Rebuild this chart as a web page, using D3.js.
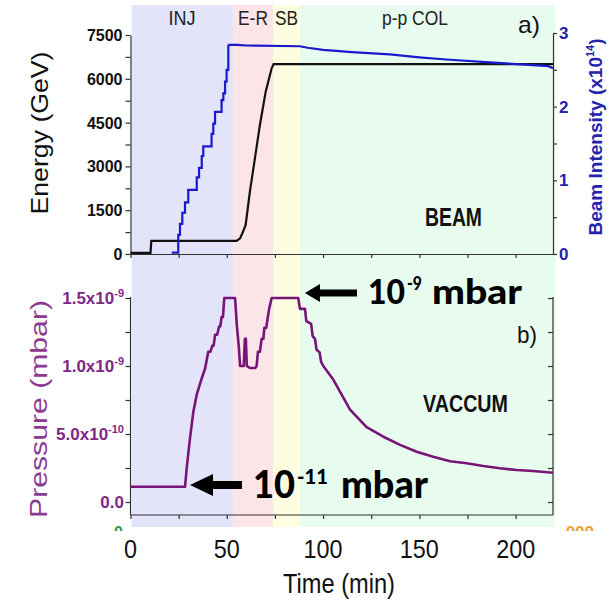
<!DOCTYPE html>
<html><head><meta charset="utf-8">
<script src="https://cdn.jsdelivr.net/npm/d3@7"></script>
<style>
html,body{margin:0;padding:0;background:#fff;}
svg{display:block;}
text{font-family:"Liberation Sans",Arial,sans-serif;}
</style></head>
<body>
<script>
// ---------------- data ----------------
const phaseNames  = ["INJ", "E-R", "SB", "p-p COL"];
const phaseStart  = [0.6, 53.2, 74.0, 88.0];
const phaseEnd    = [53.2, 74.0, 88.0, 220.5];
const phaseColors = ["#e3e3f9", "#fce5e9", "#fdfde0", "#e8fbef"];

const timeTicks   = [0, 50, 100, 150, 200];
const timeMinor   = [0, 25, 50, 75, 100, 125, 150, 175, 200];
const energyTicks = [0, 1500, 3000, 4500, 6000, 7500];
const intensityTicks = [0, 1, 2, 3];
const pressureTicks  = [0, 0.5e-9, 1.0e-9, 1.5e-9];
const pressureTickMant = ["0.0", "5.0x10", "1.0x10", "1.5x10"];
const pressureTickExp  = ["", "-10", "-9", "-9"];

// Energy (GeV) vs time (min)
const energyTime  = [0, 10.4, 10.8, 55.1, 56.9, 58.1, 59.8, 62.0, 64.6, 67.2, 70.2, 73.3, 74.3, 219.4];
const energyValue = [40, 40, 450, 450, 537, 708, 993, 2134, 3276, 4418, 5560, 6359, 6500, 6500];

// Beam intensity (x10^14): injection staircase then slow decay
const intStepTime  = [21.4, 24.8, 25.7, 26.9, 28.3, 30.0, 34.4, 35.6, 37.0, 37.8, 42.1, 43.0, 43.9, 47.3, 48.2, 49.1, 49.9, 50.8];
const intStepValue = [0.02, 0.26, 0.41, 0.56, 0.70, 0.87, 1.04, 1.17, 1.33, 1.46, 1.63, 1.77, 1.93, 2.09, 2.18, 2.34, 2.50, 2.84];
const intTailTime  = [50.8, 55.5, 60, 88, 92, 100, 115, 134.7, 150, 164, 186.6, 205, 217, 219.4];
const intTailValue = [2.84, 2.84, 2.83, 2.82, 2.80, 2.77, 2.74, 2.71, 2.67, 2.64, 2.60, 2.57, 2.55, 2.52];

// Pressure (mbar)
const pressureTime = [0, 28.3, 29.2, 30.9, 32.6, 34.4, 37.0, 38.7, 40.4, 41.5, 42.5, 43.2, 43.9, 45.0, 46.0, 46.6, 47.3, 48.0, 48.7,
  54.3, 55.2, 56.2, 56.9, 58.8, 59.4, 59.9, 60.4, 62.0, 64.8, 65.5, 66.2, 67.2, 68.1, 69.0, 69.5, 70.5, 71.2, 72.0, 73.3,
  87.1, 88.0, 90.6, 91.3, 93.8, 94.6, 95.8, 96.6, 98.2, 99.0, 100.1, 105.3, 114.0, 122.6, 131.3, 140.0, 148.6, 157.2, 165.9,
  174.6, 183.2, 191.8, 200.5, 209.1, 219.4];
const pressureValue = [0.112e-9, 0.112e-9, 0.25e-9, 0.47e-9, 0.66e-9, 0.79e-9, 0.91e-9, 0.98e-9, 1.105e-9, 1.105e-9, 1.15e-9, 1.15e-9, 1.23e-9, 1.23e-9, 1.29e-9, 1.29e-9, 1.36e-9, 1.36e-9, 1.5e-9,
  1.5e-9, 1.3e-9, 1.15e-9, 1.0e-9, 1.0e-9, 1.2e-9, 1.2e-9, 1.0e-9, 0.985e-9, 0.985e-9, 1.0e-9, 1.105e-9, 1.105e-9, 1.2e-9, 1.2e-9, 1.28e-9, 1.28e-9, 1.35e-9, 1.42e-9, 1.5e-9,
  1.5e-9, 1.42e-9, 1.42e-9, 1.33e-9, 1.31e-9, 1.22e-9, 1.20e-9, 1.12e-9, 1.10e-9, 1.03e-9, 1.0e-9, 0.90e-9, 0.68e-9, 0.55e-9, 0.48e-9, 0.42e-9, 0.37e-9, 0.333e-9, 0.30e-9,
  0.285e-9, 0.265e-9, 0.248e-9, 0.235e-9, 0.228e-9, 0.215e-9];

// annotations: arrow tip (time, pressure) and label
const annTime  = [90.6, 30.9];
const annPress = [1.537e-9, 0.125e-9];
const annExp   = ["-9", "-11"];

// ---------------- layout ----------------
const W = 612, H = 605;
const L = 130.5, R = 553;
const topT = 34, topB = 254, botT = 297, botB = 515;
const bgTop = 5, bgBot = 527;

const svg = d3.select("body").append("svg").attr("width", W).attr("height", H);

const x  = d3.scaleLinear().domain([0, 219.4]).range([L, R]);
const yE = d3.scaleLinear().domain([0, 7500]).range([topB, 35]);
const yI = d3.scaleLinear().domain([0, 3]).range([topB, 33]);
const yP = d3.scaleLinear().domain([0, 1.5e-9]).range([502, 298]);

// phase backgrounds
svg.append("g").selectAll("rect").data(phaseNames).join("rect")
  .attr("x", (d, i) => x(phaseStart[i]))
  .attr("width", (d, i) => x(phaseEnd[i]) - x(phaseStart[i]))
  .attr("y", bgTop).attr("height", bgBot - bgTop)
  .attr("fill", (d, i) => phaseColors[i]);

// phase labels
const phaseLabelX = [182, 253, 286.5, 415];
const phaseLabelW = [27, 30, 23, 66];
svg.append("g").selectAll("text").data(phaseNames).join("text")
  .attr("x", (d, i) => phaseLabelX[i] - phaseLabelW[i] / 2)
  .attr("y", 25)
  .attr("textLength", (d, i) => phaseLabelW[i]).attr("lengthAdjust", "spacingAndGlyphs")
  .attr("font-size", 20).attr("fill", "#222").text(d => d);

// ---------- top panel axes ----------
const axCol = "#333";
function styleAxis(g, col) {
  g.selectAll("path,line").attr("stroke", col).attr("stroke-width", 1.2);
  g.selectAll("text").remove();
}
svg.append("g").attr("transform", `translate(0,${topB})`)
  .call(d3.axisBottom(x).tickValues(timeMinor).tickSize(4).tickSizeOuter(0).tickFormat(""))
  .call(g => styleAxis(g, axCol));
svg.append("g").attr("transform", `translate(${L},0)`)
  .call(d3.axisLeft(yE).tickValues(d3.range(0, 7501, 750)).tickSize(5).tickSizeOuter(0).tickFormat(""))
  .call(g => styleAxis(g, axCol));
svg.append("g").selectAll("text").data(energyTicks).join("text")
  .attr("x", L - 8).attr("y", d => yE(d) + 6).attr("text-anchor", "end")
  .attr("font-size", 16).attr("font-weight", "bold").attr("fill", "#111").text(d => d);
svg.append("g").attr("transform", `translate(${R},0)`)
  .call(d3.axisRight(yI).tickValues(d3.range(0, 3.01, 0.5)).tickSize(4).tickSizeOuter(0).tickFormat(""))
  .call(g => styleAxis(g, axCol));
svg.append("g").selectAll("text").data(intensityTicks).join("text")
  .attr("x", R + 6).attr("y", d => yI(d) + 6)
  .attr("font-size", 17).attr("font-weight", "bold").attr("fill", "#2323ad").text(d => d);

// axis titles (top)
svg.append("text").attr("transform", "translate(48,133) rotate(-90)")
  .attr("text-anchor", "middle").attr("font-size", 24).attr("fill", "#111")
  .attr("textLength", 163).attr("lengthAdjust", "spacingAndGlyphs").text("Energy (GeV)");
const bi = svg.append("text").attr("transform", "translate(602,137) rotate(-90)")
  .attr("text-anchor", "middle").attr("font-size", 19).attr("font-weight", "bold").attr("fill", "#2323ad");
bi.append("tspan").text("Beam Intensity (x10");
bi.append("tspan").attr("dy", -8).attr("font-size", 11).text("14");
bi.append("tspan").attr("dy", 8).text(")");

// curves (top)
const lineE = d3.line().x(d => x(d[0])).y(d => yE(d[1]));
svg.append("path").datum(d3.zip(energyTime, energyValue))
  .attr("d", lineE).attr("fill", "none").attr("stroke", "#111").attr("stroke-width", 2.2);
const lineIStep = d3.line().x(d => x(d[0])).y(d => yI(d[1])).curve(d3.curveStepAfter);
const lineI = d3.line().x(d => x(d[0])).y(d => yI(d[1]));
svg.append("path").datum(d3.zip(intStepTime, intStepValue))
  .attr("d", lineIStep).attr("fill", "none").attr("stroke", "#1a1acc").attr("stroke-width", 2.2);
svg.append("path").datum(d3.zip(intTailTime, intTailValue))
  .attr("d", lineI).attr("fill", "none").attr("stroke", "#1a1acc").attr("stroke-width", 2.2);

svg.append("text").attr("x", 518).attr("y", 33).attr("font-size", 24).attr("fill", "#111")
  .attr("textLength", 22).attr("lengthAdjust", "spacingAndGlyphs").text("a)");
svg.append("text").attr("x", 425).attr("y", 226).attr("font-size", 26).attr("font-weight", "bold").attr("fill", "#111")
  .attr("textLength", 57).attr("lengthAdjust", "spacingAndGlyphs").text("BEAM");

// ---------- bottom panel ----------
const pCol = "#7e2886";
svg.append("line").attr("x1", L).attr("x2", L).attr("y1", botT).attr("y2", botB).attr("stroke", axCol).attr("stroke-width", 1.2);
svg.append("line").attr("x1", R).attr("x2", R).attr("y1", botT).attr("y2", botB).attr("stroke", axCol).attr("stroke-width", 1.2);
svg.append("line").attr("x1", L).attr("x2", R).attr("y1", botB).attr("y2", botB).attr("stroke", axCol).attr("stroke-width", 1.2);
const pMinor = d3.range(0, 7).map(i => i * 0.25e-9);
svg.append("g").attr("transform", `translate(${L},0)`)
  .call(d3.axisLeft(yP).tickValues(pMinor).tickSize(5).tickSizeOuter(0).tickFormat(""))
  .call(g => { styleAxis(g, axCol); g.select(".domain").remove(); });
svg.append("g").attr("transform", `translate(${R},0)`)
  .call(d3.axisLeft(yP).tickValues(pMinor).tickSize(5).tickSizeOuter(0).tickFormat(""))
  .call(g => { styleAxis(g, axCol); g.select(".domain").remove(); });
svg.append("g").attr("transform", `translate(0,${botB})`)
  .call(d3.axisBottom(x).tickValues(timeMinor).tickSize(4).tickSizeOuter(0).tickFormat(""))
  .call(g => { styleAxis(g, axCol); g.select(".domain").remove(); });

const ptl = svg.append("g").selectAll("text").data(pressureTicks).join("text")
  .attr("x", 124).attr("y", d => yP(d) + 6).attr("text-anchor", "end")
  .attr("font-size", 17).attr("font-weight", "bold").attr("fill", pCol);
ptl.append("tspan").text((d, i) => pressureTickMant[i]);
ptl.append("tspan").attr("dy", -7).attr("font-size", 11).text((d, i) => pressureTickExp[i]);

svg.append("text").attr("transform", "translate(47,409) rotate(-90)")
  .attr("text-anchor", "middle").attr("font-size", 24).attr("fill", "#8b3a92")
  .attr("textLength", 218).attr("lengthAdjust", "spacingAndGlyphs").text("Pressure (mbar)");

const lineP = d3.line().x(d => x(d[0])).y(d => yP(d[1]));
svg.append("path").datum(d3.zip(pressureTime, pressureValue))
  .attr("d", lineP).attr("fill", "none").attr("stroke", "#761477").attr("stroke-width", 2.6).attr("stroke-linejoin", "round");

svg.append("text").attr("x", 517).attr("y", 343).attr("font-size", 24).attr("fill", "#111")
  .attr("textLength", 20).attr("lengthAdjust", "spacingAndGlyphs").text("b)");
svg.append("text").attr("x", 423).attr("y", 412).attr("font-size", 23).attr("font-weight", "bold").attr("fill", "#111")
  .attr("textLength", 85).attr("lengthAdjust", "spacingAndGlyphs").text("VACCUM");

// x tick labels & title
svg.append("g").selectAll("text").data(timeTicks).join("text")
  .attr("x", d => x(d) - String(d).length * 6.5).attr("y", 558)
  .attr("font-size", 26).attr("fill", "#111")
  .attr("textLength", d => String(d).length * 13).attr("lengthAdjust", "spacingAndGlyphs").text(d => d);
svg.append("text").attr("x", 283).attr("y", 593).attr("font-size", 27).attr("fill", "#111")
  .attr("textLength", 112).attr("lengthAdjust", "spacingAndGlyphs").text("Time (min)");

// remnants of underlying axes
const defs = svg.append("defs");
defs.append("clipPath").attr("id", "remclip").append("rect").attr("x", 100).attr("y", 518).attr("width", 512).attr("height", 13);
svg.append("text").attr("clip-path", "url(#remclip)").attr("x", 114).attr("y", 538)
  .attr("font-size", 16).attr("font-weight", "bold").attr("fill", "#2e9a3a").text("0");
svg.append("text").attr("clip-path", "url(#remclip)").attr("x", 560).attr("y", 538)
  .attr("font-size", 17).attr("font-weight", "bold").attr("fill", "#f0a030").text("-000");

// annotations (arrows + labels)
const annSizes = [{head: 15, half: 9, shaft: 52, th: 3.5, fs: 34, fsup: 19, w10: 37, wsup: 15, wm: 90, gap1: 11, gap2: 10},
                  {head: 23, half: 11, shaft: 52, th: 4, fs: 37, fsup: 21, w10: 42, wsup: 31, wm: 87, gap1: 11, gap2: 13}];
annTime.forEach((t, i) => {
  const s = annSizes[i];
  const tx = x(t), ty = yP(annPress[i]);
  const pts = [[tx, ty], [tx + s.head, ty - s.half], [tx + s.head, ty - s.th], [tx + s.shaft, ty - s.th],
               [tx + s.shaft, ty + s.th], [tx + s.head, ty + s.th], [tx + s.head, ty + s.half]];
  svg.append("polygon").attr("points", pts.map(p => p.join(",")).join(" ")).attr("fill", "#000");
  const bx = tx + s.shaft + s.gap1, by = ty + 11 + i * 2;
  const g = svg.append("g").attr("font-weight", "900").attr("fill", "#000");
  g.append("text").attr("x", bx).attr("y", by).attr("font-size", s.fs).style("font-family", "Lato")
    .attr("textLength", s.w10).attr("lengthAdjust", "spacingAndGlyphs").text("10");
  g.append("text").attr("x", bx + s.w10 + 2).attr("y", by - 14).attr("font-size", s.fsup).style("font-family", "Lato")
    .attr("textLength", s.wsup).attr("lengthAdjust", "spacingAndGlyphs").text(annExp[i]);
  g.append("text").attr("x", bx + s.w10 + 2 + s.wsup + s.gap2).attr("y", by).attr("font-size", s.fs).style("font-family", "Lato")
    .attr("textLength", s.wm).attr("lengthAdjust", "spacingAndGlyphs").text("mbar");
});
</script>
</body></html>
